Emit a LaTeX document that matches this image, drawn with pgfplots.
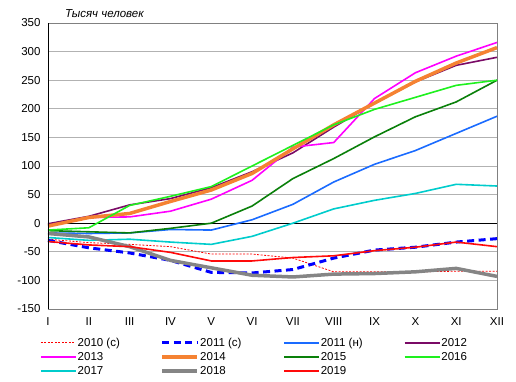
\documentclass[border=0pt]{standalone}
\usepackage{pgfplots}
\pgfplotsset{compat=1.18}
\usepackage{fontspec}
\setmainfont{Liberation Sans}
\definecolor{c2010}{HTML}{FF0000}
\definecolor{c2011s}{HTML}{0000FF}
\definecolor{c2011n}{HTML}{1A6BFF}
\definecolor{c2012}{HTML}{7A0A66}
\definecolor{c2013}{HTML}{FF00FF}
\definecolor{c2014}{HTML}{F58232}
\definecolor{c2015}{HTML}{0A800A}
\definecolor{c2016}{HTML}{1EF01E}
\definecolor{c2017}{HTML}{00CCCC}
\definecolor{c2018}{HTML}{858585}
\definecolor{c2019}{HTML}{FF0A0A}
\begin{document}
\begin{tikzpicture}
\begin{axis}[
  name=ax, at={(0,0)}, anchor=south west,
  scale only axis, width=449pt, height=286pt,
  clip=false,
  xmin=0, xmax=11, ymin=-150, ymax=350,
  xtick={0,...,11},
  xticklabels={I,II,III,IV,V,VI,VII,VIII,IX,X,XI,XII},
  ytick={-150,-100,...,350},
  font=\fontsize{11.5}{13.5}\selectfont,
  /pgf/number format/assume math mode=true,
  major tick length=0pt,
  ymajorgrids, grid style={draw=black!30, line width=0.8pt},
  axis line style={draw=black!50, line width=0.8pt},
  extra y ticks={0}, extra y tick labels={},
  extra y tick style={grid style={draw=black, line width=0.8pt}},
  yticklabel style={xshift=-4pt},
  xticklabel style={yshift=-5pt},
  legend columns=4,
  legend cell align=left,
  legend style={at={(-0.018,-0.097)}, anchor=north west, draw=none, fill=none,
    inner sep=0pt, row sep=2.5pt, nodes={inner sep=1pt},
    /tikz/every even column/.append style={column sep=4pt}},
  legend image code/.code={\draw[#1] (0pt,0pt) -- (35pt,0pt);},
]
\addplot[c2010, line width=0.8pt, dash pattern=on 2pt off 1.5pt] coordinates {(0,-28) (1,-34) (2,-37) (3,-41) (4,-54) (5,-54) (6,-61) (7,-85) (8,-85) (9,-85) (10,-84) (11,-84)};
\addlegendentry{\makebox[78pt][l]{2010 (с)}}
\addplot[c2011s, line width=3pt, dash pattern=on 7pt off 4.5pt] coordinates {(0,-30) (1,-43) (2,-52) (3,-65) (4,-86) (5,-87) (6,-81) (7,-61) (8,-47) (9,-42) (10,-33) (11,-27)};
\addlegendentry{\makebox[78pt][l]{2011 (с)}}
\addplot[c2011n, line width=1.6pt] coordinates {(0,-17) (1,-18) (2,-17) (3,-11) (4,-12) (5,6) (6,33) (7,72) (8,103) (9,127) (10,157) (11,187)};
\addlegendentry{\makebox[78pt][l]{2011 (н)}}
\addplot[c2012, line width=1.6pt] coordinates {(0,-1) (1,12) (2,32) (3,43) (4,62) (5,90) (6,123) (7,168) (8,210) (9,247) (10,276) (11,290)};
\addlegendentry{\makebox[78pt][l]{2012}}
\addplot[c2013, line width=1.6pt] coordinates {(0,-4) (1,10) (2,11) (3,21) (4,42) (5,75) (6,133) (7,141) (8,218) (9,263) (10,292) (11,316)};
\addlegendentry{2013}
\addplot[c2014, line width=3.5pt] coordinates {(0,-5) (1,10) (2,17) (3,38) (4,58) (5,87) (6,130) (7,172) (8,210) (9,248) (10,280) (11,307)};
\addlegendentry{2014}
\addplot[c2015, line width=1.6pt] coordinates {(0,-13) (1,-15) (2,-17) (3,-9) (4,0) (5,30) (6,78) (7,113) (8,151) (9,186) (10,212) (11,250)};
\addlegendentry{2015}
\addplot[c2016, line width=1.6pt] coordinates {(0,-12) (1,-8) (2,31) (3,47) (4,64) (5,100) (6,136) (7,172) (8,199) (9,220) (10,241) (11,250)};
\addlegendentry{2016}
\addplot[c2017, line width=1.6pt] coordinates {(0,-25) (1,-30) (2,-28) (3,-33) (4,-37) (5,-23) (6,0) (7,25) (8,40) (9,52) (10,68) (11,65)};
\addlegendentry{2017}
\addplot[c2018, line width=3.5pt] coordinates {(0,-18) (1,-24) (2,-41) (3,-65) (4,-78) (5,-91) (6,-94) (7,-89) (8,-88) (9,-85) (10,-79) (11,-93)};
\addlegendentry{2018}
\addplot[c2019, line width=1.6pt] coordinates {(0,-32) (1,-38) (2,-41) (3,-51) (4,-66) (5,-66) (6,-60) (7,-57) (8,-48) (9,-42) (10,-33) (11,-41)};
\addlegendentry{2019}
\draw[black, line width=0.8pt] (rel axis cs:0,0) -- (rel axis cs:0,1);
\end{axis}
\node[anchor=base west, font=\fontsize{11.5}{13.5}\selectfont\itshape, inner sep=0pt] at ([xshift=17pt,yshift=5pt]ax.north west) {Тысяч человек};
\pgfresetboundingbox
\path (ax.south west) ++(-48pt,-73pt) rectangle ++(516pt,382pt);
\end{tikzpicture}
\end{document}
